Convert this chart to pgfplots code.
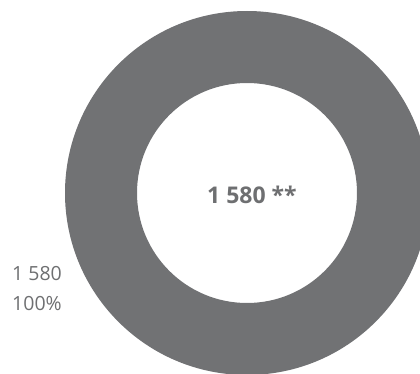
\documentclass[border=0pt]{standalone}
\usepackage{pgfplots}
\usepackage{pgfplotstable}
\pgfplotsset{compat=1.18}
\usepackage{fontspec}
\setmainfont{Open Sans}
\definecolor{ring}{HTML}{717274}
\definecolor{txt}{HTML}{6E6F71}
\pgfplotstableread{
label value
Total 1580
}\datatable
\begin{document}
\begin{tikzpicture}
\begin{axis}[
  scale only axis, width=420pt, height=373pt,
  xmin=0, xmax=420, ymin=0, ymax=373,
  axis equal image, hide axis, clip=true,
]
\pgfplotstablegetelem{0}{value}\of\datatable
\let\val=\pgfplotsretval
\fill[ring, even odd rule] (axis cs:247,180) circle[radius=182] (axis cs:247,180) circle[radius=110];
\addplot[draw=none, nodes near coords={\textbf{1 580 **}}, nodes near coords style={font=\fontsize{23}{26}\selectfont, text=txt, anchor=center}] coordinates {(252,178)};
\node[align=center, text=txt, font=\fontsize{19.5}{30}\selectfont] at (axis cs:37,84) {1 580\\100\%};
\end{axis}
\pgfresetboundingbox
\useasboundingbox (current axis.south west) rectangle (current axis.north east);
\end{tikzpicture}
\end{document}
